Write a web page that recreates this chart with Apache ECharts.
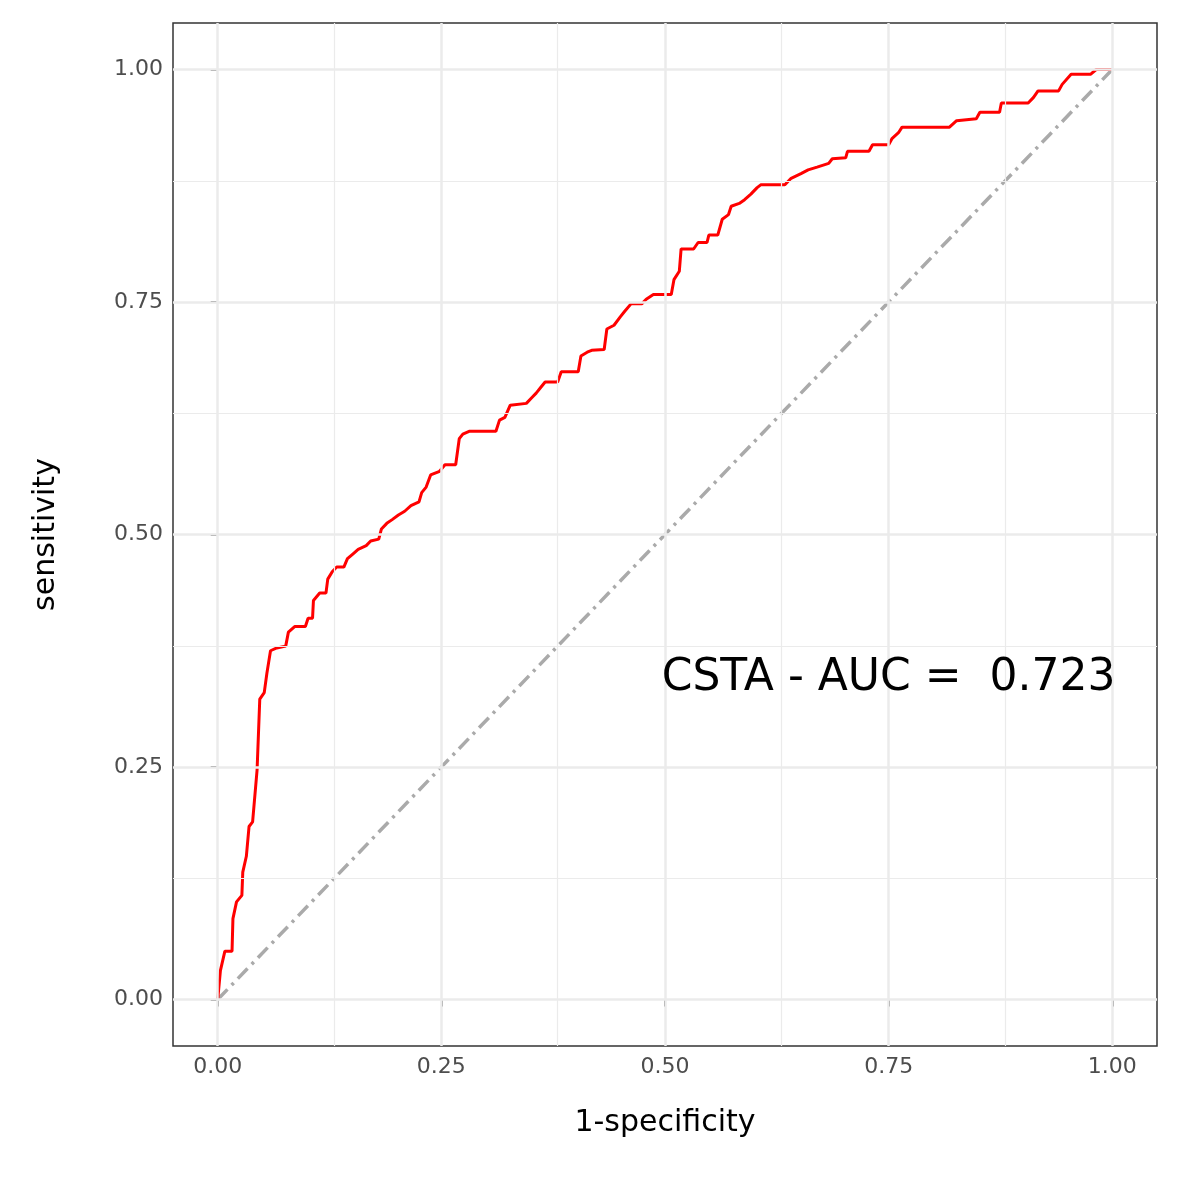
<!DOCTYPE html>
<html>
<head>
<meta charset="utf-8">
<script src="https://cdn.jsdelivr.net/npm/echarts@6/dist/echarts.min.js"></script>
<style>html,body{margin:0;padding:0;background:#fff}#chart{width:1181px;height:1181px}</style>
</head>
<body>
<div id="chart"></div>
<script>
// ROC curve points: [1-specificity, sensitivity]
var rocFpr = [0,0.003,0.008,0.016,0.017,0.021,0.027,0.028,0.032,0.035,0.039,0.044,0.047,0.052,0.055,0.059,0.066,0.076,0.079,0.086,0.098,0.101,0.106,0.107,0.114,0.121,0.123,0.128,0.133,0.141,0.145,0.151,0.157,0.166,0.171,0.180,0.183,0.189,0.195,0.202,0.209,0.216,0.225,0.228,0.233,0.238,0.248,0.254,0.266,0.270,0.274,0.281,0.311,0.315,0.321,0.327,0.345,0.351,0.356,0.361,0.366,0.380,0.384,0.403,0.406,0.413,0.418,0.432,0.435,0.443,0.450,0.455,0.462,0.474,0.479,0.487,0.507,0.510,0.516,0.518,0.532,0.537,0.547,0.549,0.559,0.564,0.571,0.574,0.583,0.589,0.596,0.603,0.607,0.634,0.641,0.652,0.660,0.670,0.683,0.687,0.702,0.704,0.728,0.732,0.750,0.754,0.761,0.765,0.818,0.826,0.848,0.852,0.874,0.876,0.906,0.912,0.917,0.940,0.944,0.954,0.976,0.982,1];
var rocTpr = [0,0.031,0.052,0.052,0.087,0.105,0.112,0.137,0.154,0.186,0.191,0.247,0.323,0.330,0.351,0.375,0.378,0.380,0.395,0.401,0.401,0.410,0.410,0.429,0.437,0.437,0.452,0.460,0.465,0.465,0.474,0.479,0.484,0.488,0.493,0.495,0.506,0.512,0.516,0.521,0.525,0.531,0.535,0.545,0.551,0.564,0.568,0.575,0.575,0.603,0.608,0.611,0.611,0.623,0.626,0.639,0.641,0.647,0.652,0.658,0.664,0.664,0.675,0.675,0.692,0.696,0.698,0.699,0.721,0.725,0.734,0.740,0.748,0.748,0.753,0.758,0.758,0.774,0.783,0.807,0.807,0.814,0.814,0.822,0.822,0.839,0.844,0.853,0.856,0.860,0.866,0.873,0.876,0.876,0.883,0.888,0.892,0.895,0.899,0.904,0.905,0.912,0.912,0.919,0.919,0.926,0.932,0.938,0.938,0.945,0.947,0.954,0.954,0.964,0.964,0.970,0.977,0.977,0.984,0.995,0.995,1.0,1];
var majorTicks = [0, 0.25, 0.5, 0.75, 1];
var minorTicks = [0.125, 0.375, 0.625, 0.875];
var tickLabels = ['0.00','0.25','0.50','0.75','1.00'];
var aucText = 'CSTA - AUC =  0.723';

var chart = echarts.init(document.getElementById('chart'));
var rocData = rocFpr.map(function (x, i) { return [x, rocTpr[i]]; });

function fmt(v) {
    var i = majorTicks.indexOf(Math.round(v * 1000) / 1000);
    return i >= 0 ? tickLabels[i] : '';
}

function axis(name, gap) {
    return {
        type: 'value', min: -0.05, max: 1.05,
        name: name, nameLocation: 'middle', nameGap: gap,
        nameTextStyle: { fontSize: 30, color: '#000', fontFamily: 'DejaVu Sans' },
        axisLine: { show: false },
        axisTick: { show: true, length: 7, customValues: majorTicks, lineStyle: { color: '#333', width: 2 } },
        axisLabel: { formatter: fmt, customValues: majorTicks, fontSize: 22, color: '#4d4d4d', fontFamily: 'DejaVu Sans', margin: 10 },
        splitLine: { show: false }
    };
}

function gridLines(vals, w) {
    var out = [];
    vals.forEach(function (v) {
        out.push({ xAxis: v, lineStyle: { color: '#ebebeb', width: w, type: 'solid' } });
        out.push({ yAxis: v, lineStyle: { color: '#ebebeb', width: w, type: 'solid' } });
    });
    return out;
}

chart.setOption({
    backgroundColor: '#fff',
    animation: false,
    grid: { left: 173, right: 24, top: 23, bottom: 135, show: true, borderColor: '#333', borderWidth: 1.5 },
    xAxis: axis('1-specificity', 62),
    yAxis: axis('sensitivity', 112),
    series: [{
        type: 'line',
        data: [],
        z: 1,
        markLine: {
            silent: true, symbol: 'none', label: { show: false },
            data: gridLines(minorTicks, 1.2).concat(gridLines(majorTicks, 2.5))
        }
    }, {
        type: 'line',
        data: [[0, 0], [1, 1]],
        symbol: 'none',
        lineStyle: { color: '#aaaaaa', width: 3.5, type: [14, 6, 3, 6] },
        z: 2
    }, {
        type: 'line',
        data: rocData,
        symbol: 'none',
        lineStyle: { color: '#ff0000', width: 3 },
        z: 3,
        markPoint: {
            symbol: 'circle', symbolSize: 0,
            label: { show: true, formatter: aucText, fontSize: 44, color: '#000', fontFamily: 'DejaVu Sans' },
            data: [{ coord: [0.75, 0.345] }]
        }
    }]
});
</script>
</body>
</html>
